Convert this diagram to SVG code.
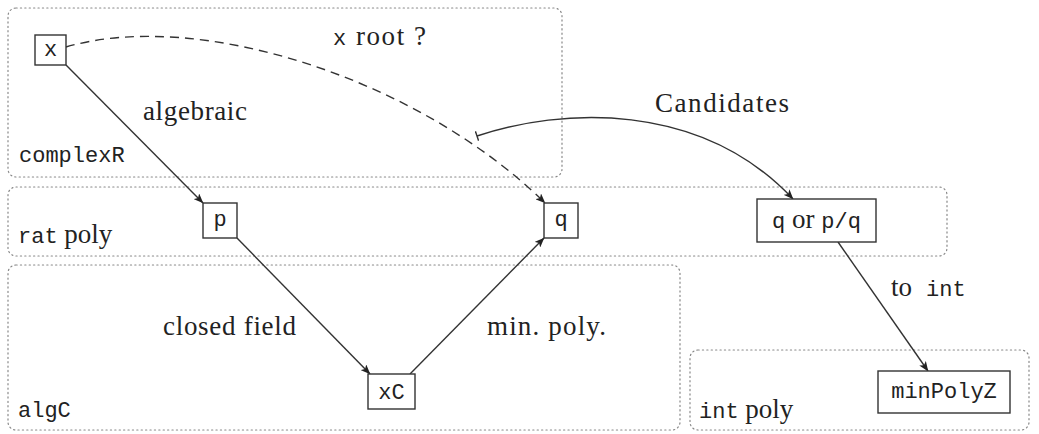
<svg xmlns="http://www.w3.org/2000/svg" width="1039" height="434" viewBox="0 0 1039 434">
<style>
.grp{fill:none;stroke:#888;stroke-width:1.2;stroke-dasharray:1.2 3.2;stroke-linecap:round}
.nd{fill:#fff;stroke:#333;stroke-width:1.4}
.mono{font-family:"Liberation Mono","DejaVu Sans Mono",monospace;font-size:22px;fill:#222}
.serif{font-family:"Liberation Serif","DejaVu Serif",serif;font-size:27px;fill:#222}
.c{fill:none;stroke:#333;stroke-width:1.4}
.dash{stroke-dasharray:9 6}
</style>
<defs>
<marker id="ah" viewBox="0 0 10 8" refX="9.5" refY="4" markerWidth="10" markerHeight="8" markerUnits="userSpaceOnUse" orient="auto">
<path d="M0,0 L10,4 L0,8 L2.5,4 z" fill="#222"/>
</marker>
<marker id="bar" viewBox="0 0 2 10" refX="1" refY="5" markerWidth="2" markerHeight="10" markerUnits="userSpaceOnUse" orient="auto">
<path d="M1,0 L1,10" stroke="#333" stroke-width="1.4"/>
</marker>
</defs>
<g id="groups">
<g id="g-complexR"><rect class="grp" x="8" y="8" width="554" height="169" rx="8"/><text class="mono" x="19" y="162">complexR</text></g>
<g id="g-ratpoly"><rect class="grp" x="8" y="187" width="939" height="69" rx="8"/><text x="18" y="243"><tspan class="mono">rat</tspan><tspan class="serif"> poly</tspan></text></g>
<g id="g-algC"><rect class="grp" x="8" y="265" width="672" height="165" rx="8"/><text class="mono" x="18" y="417">algC</text></g>
<g id="g-intpoly"><rect class="grp" x="690" y="350" width="339" height="80" rx="8"/><text x="699" y="418"><tspan class="mono">int</tspan><tspan class="serif"> poly</tspan></text></g>
</g>
<g id="connectors">
<line class="c" x1="66" y1="65" x2="203" y2="203" marker-end="url(#ah)"/>
<line class="c" x1="237" y1="238" x2="370" y2="374" marker-end="url(#ah)"/>
<line class="c" x1="410" y1="374" x2="544" y2="238" marker-end="url(#ah)"/>
<path class="c dash" d="M66,47 C200,8 420,80 545,203" marker-end="url(#ah)"/>
<path class="c" d="M477,136 C560,108 700,100 793,199" marker-start="url(#bar)" marker-end="url(#ah)"/>
<line class="c" x1="838" y1="242" x2="928" y2="371" marker-end="url(#ah)"/>
<text x="333" y="45"><tspan class="mono">x</tspan><tspan class="serif" x="356" textLength="70">root ?</tspan></text>
<text class="serif" x="143" y="120" textLength="104">algebraic</text>
<text class="serif" x="655" y="112" textLength="134">Candidates</text>
<text class="serif" x="163" y="335" textLength="133">closed field</text>
<text class="serif" x="487" y="335" textLength="119">min. poly.</text>
<text x="891" y="296"><tspan class="serif">to </tspan><tspan class="mono" x="926">int</tspan></text>
</g>
<g id="n-x"><rect class="nd" x="35" y="35" width="31" height="30"/><text class="mono" x="50.5" y="56" text-anchor="middle">x</text></g>
<g id="n-p"><rect class="nd" x="203" y="203" width="34" height="35"/><text class="mono" x="220" y="226" text-anchor="middle">p</text></g>
<g id="n-q"><rect class="nd" x="544" y="203" width="34" height="35"/><text class="mono" x="561" y="226" text-anchor="middle">q</text></g>
<g id="n-qorpq"><rect class="nd" x="757" y="199" width="119" height="43"/><text x="816.5" y="228" text-anchor="middle"><tspan class="mono">q</tspan><tspan class="serif"> or </tspan><tspan class="mono">p/q</tspan></text></g>
<g id="n-xC"><rect class="nd" x="368" y="374" width="47" height="35"/><text class="mono" x="391.5" y="399" text-anchor="middle">xC</text></g>
<g id="n-minPolyZ"><rect class="nd" x="878" y="371" width="132" height="42"/><text class="mono" x="944" y="398" text-anchor="middle">minPolyZ</text></g>
</svg>
